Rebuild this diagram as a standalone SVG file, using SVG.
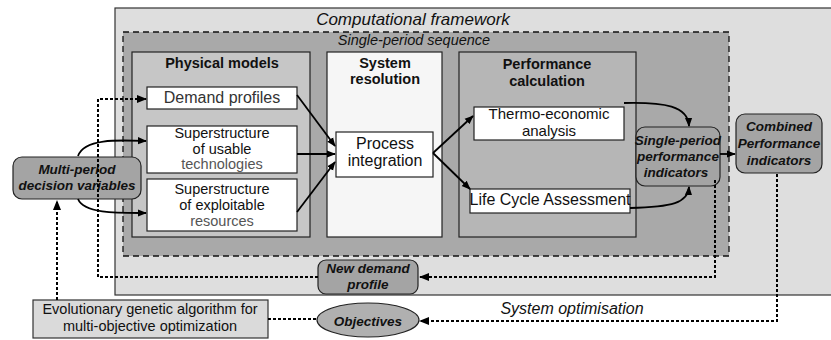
<svg xmlns="http://www.w3.org/2000/svg" width="831" height="340" viewBox="0 0 831 340">
<style>
.t{font-family:"Liberation Sans",Arial,sans-serif;fill:#111;text-anchor:middle}
.r{font-size:14.5px}
.b{font-size:14.5px;font-weight:bold}
.bi{font-size:13.5px;font-weight:bold;font-style:italic}
.i{font-style:italic}
.wbox{fill:#ffffff;stroke:#222;stroke-width:1.2}
.gbox{fill:#a4a4a4;stroke:#222;stroke-width:1.2}
.sol{fill:none;stroke:#000;stroke-width:1.8}
.dot{fill:none;stroke:#000;stroke-width:2;stroke-dasharray:3 2}
</style>
<defs>
<marker id="ah" viewBox="0 0 10 10" refX="9" refY="5" markerWidth="5" markerHeight="5" orient="auto" markerUnits="strokeWidth">
<path d="M0,1 L10,5 L0,9 z" fill="#000"/>
</marker>
</defs>
<rect width="831" height="340" fill="#ffffff"/>
<g id="framework">
<rect x="115" y="8" width="720" height="287" fill="#dedede" stroke="#333" stroke-width="1.2"/>
<text class="t i" x="413" y="25" font-size="17">Computational framework</text>
</g>
<g id="sequence">
<rect x="123" y="32" width="606" height="224" fill="#a9a9a9" stroke="#111" stroke-width="1.3" stroke-dasharray="6 4"/>
<text class="t i" x="414" y="45" font-size="14.5">Single-period sequence</text>
</g>
<g id="physical-models">
<rect x="132" y="52" width="178" height="185" fill="#c6c6c6" stroke="#222" stroke-width="1.2"/>
<text class="t b" x="222" y="68">Physical models</text>
</g>
<g id="system-resolution">
<rect x="327" y="52" width="115" height="185" fill="#f6f6f6" stroke="#222" stroke-width="1.2"/>
<text class="t b" x="385" y="68">System</text>
<text class="t b" x="385" y="84">resolution</text>
</g>
<g id="performance-calculation">
<rect x="459" y="52" width="177" height="185" fill="#b6b6b6" stroke="#222" stroke-width="1.2"/>
<text class="t b" x="547" y="69">Performance</text>
<text class="t b" x="547" y="86">calculation</text>
</g>
<g id="demand-profiles">
<rect class="wbox" x="147" y="87" width="150" height="22"/>
<text class="t" x="222" y="103" font-size="16" style="fill:#333">Demand profiles</text>
</g>
<g id="superstructure-technologies">
<rect class="wbox" x="147" y="126" width="150" height="47"/>
<text class="t r" x="222" y="138">Superstructure</text>
<text class="t r" x="222" y="153.5">of usable</text>
<text class="t r" x="222" y="169" style="fill:#555">technologies</text>
</g>
<g id="superstructure-resources">
<rect class="wbox" x="147" y="179" width="150" height="52"/>
<text class="t r" x="222" y="194">Superstructure</text>
<text class="t r" x="222" y="210">of exploitable</text>
<text class="t r" x="222" y="226" style="fill:#555">resources</text>
</g>
<g id="process-integration">
<rect class="wbox" x="336" y="132" width="97" height="45"/>
<text class="t" x="385" y="149" font-size="16">Process</text>
<text class="t" x="385" y="166" font-size="16">integration</text>
</g>
<g id="thermo-economic">
<rect class="wbox" x="474" y="107" width="150" height="33"/>
<text class="t" x="549" y="119" font-size="15">Thermo-economic</text>
<text class="t" x="549" y="135.5" font-size="15">analysis</text>
</g>
<g id="lca">
<rect class="wbox" x="470" y="189" width="160" height="24"/>
<text class="t" x="550" y="205" font-size="16">Life Cycle Assessment</text>
</g>
<g id="single-period-indicators">
<rect class="gbox" x="636" y="127" width="84" height="59" rx="9"/>
<text class="t bi" x="678" y="145" font-size="12.5">Single-period</text>
<text class="t bi" x="678" y="161" font-size="12.5">performance</text>
<text class="t bi" x="676" y="177" font-size="12.5">indicators</text>
</g>
<g id="combined-indicators">
<rect class="gbox" x="736" y="114" width="86" height="59" rx="9"/>
<text class="t bi" x="779" y="131" font-size="14">Combined</text>
<text class="t bi" x="779" y="148">Performance</text>
<text class="t bi" x="779" y="165" font-size="14">indicators</text>
</g>
<g id="multi-period">
<rect class="gbox" x="13" y="157" width="128" height="42" rx="9"/>
<text class="t bi" x="77" y="174" font-size="13.5">Multi-period</text>
<text class="t bi" x="77" y="190" font-size="13">decision variables</text>
</g>
<g id="new-demand-profile">
<rect class="gbox" x="318" y="260" width="100" height="34" rx="8"/>
<text class="t bi" x="368" y="273">New demand</text>
<text class="t bi" x="368" y="289">profile</text>
</g>
<g id="objectives">
<ellipse cx="368" cy="320" rx="51" ry="17" fill="#b0b0b0" stroke="#222" stroke-width="1.2"/>
<text class="t bi" x="368" y="326" font-size="17.5">Objectives</text>
</g>
<g id="genetic-algorithm">
<rect x="33" y="300" width="235" height="38" fill="#dadada" stroke="#333" stroke-width="1.2"/>
<text class="t" x="150" y="314" font-size="14.5">Evolutionary genetic algorithm for</text>
<text class="t" x="150" y="331" font-size="14.5">multi-objective optimization</text>
</g>
<text class="t i" x="572" y="314" font-size="16">System optimisation</text>
<g id="connectors">
<path class="dot" d="M318,277 L98,277 L98,99 L146,99" marker-end="url(#ah)"/>
<path class="dot" d="M715,180 L715,277 L420,277" marker-end="url(#ah)"/>
<path class="dot" d="M777,174 L777,321 L420,321" marker-end="url(#ah)"/>
<path class="dot" d="M268,319 L317,319"/>
<path class="dot" d="M57,300 L57,201" marker-end="url(#ah)"/>
<path class="sol" d="M78,156 C84,138 120,140 146,141" marker-end="url(#ah)"/>
<path class="sol" d="M78,199 C84,214 120,213 146,213" marker-end="url(#ah)"/>
<path class="sol" d="M297,95 L335,146" marker-end="url(#ah)"/>
<path class="sol" d="M297,154 L335,154" marker-end="url(#ah)"/>
<path class="sol" d="M297,212 L335,162" marker-end="url(#ah)"/>
<path class="sol" d="M433,153 L473,116" marker-end="url(#ah)"/>
<path class="sol" d="M433,153 L470,189" marker-end="url(#ah)"/>
<path class="sol" d="M624,103 C665,102 688,106 689,126" marker-end="url(#ah)"/>
<path class="sol" d="M630,208 C672,207 688,203 689,187" marker-end="url(#ah)"/>
<path class="sol" d="M720,154 L735,154" marker-end="url(#ah)"/>
</g>
</svg>
